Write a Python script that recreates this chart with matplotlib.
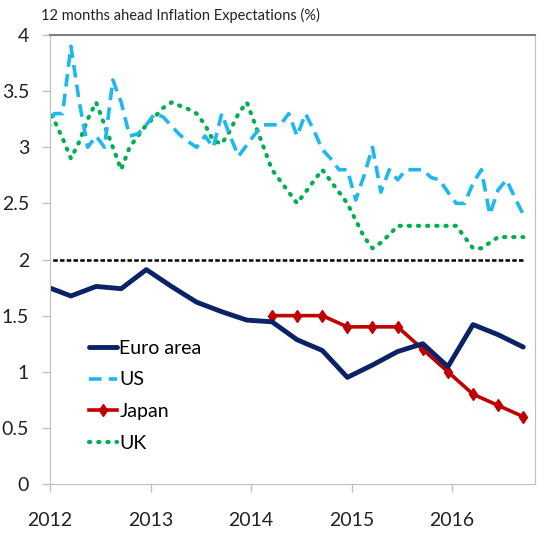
import numpy as np
import matplotlib
matplotlib.use('Agg')
import matplotlib.pyplot as plt

plt.rcParams['font.family'] = ['Lato', 'DejaVu Sans']

# x positions are months since Jan 2012 (mid-month), data start Dec 2011
years = [2012, 2013, 2014, 2015, 2016]

euro_months = [-0.5 + 3 * i for i in range(20)]
euro = [1.76, 1.675, 1.76, 1.74, 1.91, 1.76, 1.62, 1.535, 1.46, 1.445,
        1.285, 1.19, 0.95, 1.06, 1.18, 1.25, 1.045, 1.42, 1.33, 1.22]

japan_months = [26.5 + 3 * i for i in range(11)]
japan = [1.5, 1.5, 1.5, 1.4, 1.4, 1.4, 1.2, 1.0, 0.8, 0.7, 0.6]

monthly = [-0.5 + i for i in range(58)]
us = [3.1, 3.3, 3.3, 3.9, 3.4, 3.0, 3.1, 3.0, 3.6, 3.4, 3.1, 3.12,
      3.2, 3.3, 3.27, 3.19, 3.11, 3.05, 3.0, 3.1, 3.0, 3.3, 3.1, 2.92,
      3.02, 3.12, 3.2, 3.2, 3.2, 3.3, 3.1, 3.3, 3.15, 2.98, 2.9, 2.8,
      2.8, 2.53, 2.75, 3.0, 2.6, 2.8, 2.71, 2.8, 2.8, 2.8, 2.73, 2.71,
      2.6, 2.5, 2.5, 2.68, 2.8, 2.4, 2.62, 2.71, 2.55, 2.4]
uk = [3.35, 3.24, 3.08, 2.9, 3.05, 3.25, 3.4, 3.2, 3.0, 2.8, 3.0, 3.1,
      3.2, 3.27, 3.35, 3.4, 3.37, 3.34, 3.3, 3.2, 3.06, 3.03, 3.15, 3.3,
      3.4, 3.2, 3.0, 2.8, 2.7, 2.6, 2.5, 2.6, 2.7, 2.8, 2.7, 2.6,
      2.5, 2.35, 2.2, 2.1, 2.15, 2.22, 2.3, 2.3, 2.3, 2.3, 2.3, 2.3,
      2.3, 2.3, 2.2, 2.1, 2.1, 2.15, 2.2, 2.2, 2.2, 2.2]
target = [2.0] * len(monthly)

fig = plt.figure(figsize=(5.52, 5.36), dpi=100)
ax = fig.add_axes([0.0906, 0.097, 0.8786, 0.8377])

ax.plot(monthly, target, color='black', lw=1.8, ls=(0, (1.8, 0.9)))
ax.plot(monthly, uk, color='#00B050', lw=3, ls=(0, (0.3, 1.9)),
        dash_capstyle='round', label='UK')
ax.plot(monthly, us, color='#1FB7F0', lw=2.6, ls=(0, (3.5, 2)), label='US')
ax.plot(japan_months, japan, color='#C00000', lw=2.6, marker='d',
        markersize=6, label='Japan')
ax.plot(euro_months, euro, color='#0B2266', lw=3.5, label='Euro area',
        solid_capstyle='round')

ax.set_xlim(0, 57.9)
ax.set_ylim(0, 4)
ax.set_xticks([12 * i for i in range(len(years))])
ax.set_xticklabels([str(y) for y in years])
ax.set_yticks(np.arange(0, 4.01, 0.5))
ax.set_yticklabels(['0', '0.5', '1', '1.5', '2', '2.5', '3', '3.5', '4'])
ax.tick_params(axis='both', labelsize=14, color='#BFBFBF', length=6,
               width=1, labelcolor='#222222')
ax.tick_params(axis='x', pad=14)
ax.tick_params(axis='y', pad=9)
for s in ['left', 'bottom', 'right']:
    ax.spines[s].set_color('#BFBFBF')
ax.spines['top'].set_color('#7F7F7F')
ax.spines['top'].set_linewidth(1.5)

h, l = ax.get_legend_handles_labels()
order = [3, 1, 2, 0]
ax.legend([h[i] for i in order], [l[i] for i in order], loc='upper left',
          bbox_to_anchor=(0.045, 0.36), frameon=False, fontsize=14,
          handlelength=1.4, handletextpad=0.15, labelspacing=0.75)

fig.text(0.074, 0.972, '12 months ahead Inflation Expectations (%)',
         fontsize=10.5, va='center', ha='left', color='#222222')

fig.savefig('out.png', dpi=100)
